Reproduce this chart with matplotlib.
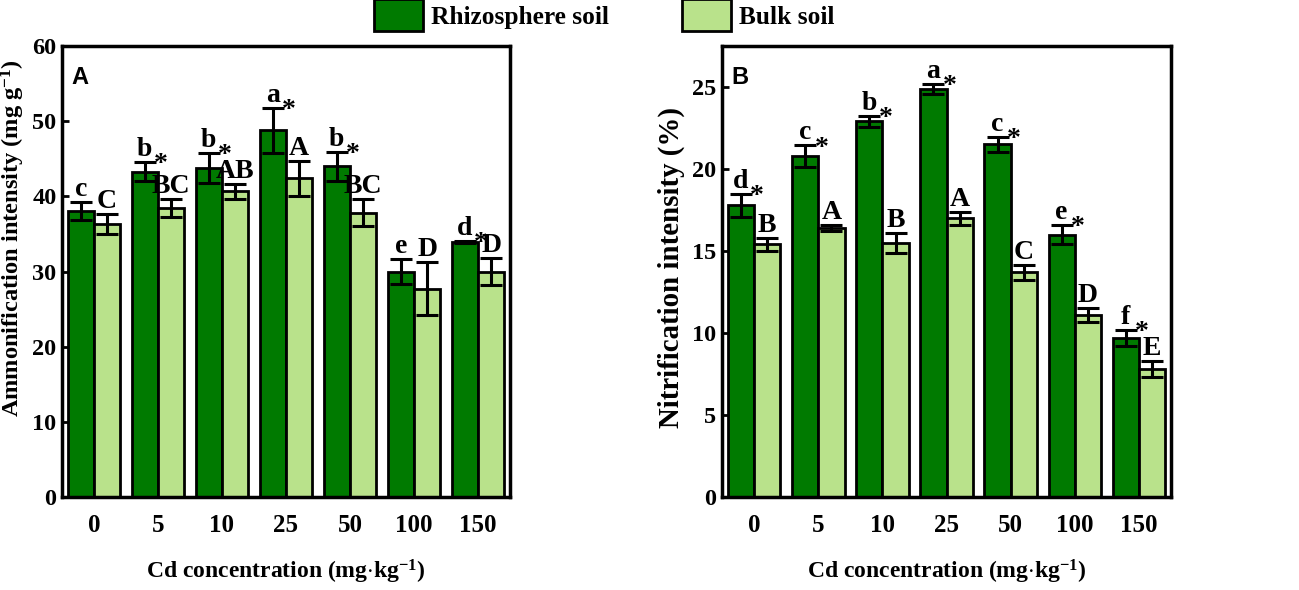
import matplotlib
matplotlib.use('Agg')
import matplotlib.pyplot as plt
import numpy as np
from matplotlib.patches import Patch

plt.rcParams['font.family'] = 'Liberation Serif'
plt.rcParams['font.weight'] = 'bold'
plt.rcParams['axes.labelweight'] = 'bold'
plt.rcParams['mathtext.fontset'] = 'custom'
plt.rcParams['mathtext.rm'] = 'Liberation Serif:bold'
plt.rcParams['mathtext.it'] = 'Liberation Serif:bold'
plt.rcParams['mathtext.bf'] = 'Liberation Serif:bold'

cd_levels = ['0', '5', '10', '25', '50', '100', '150']

# panel A: ammonification intensity (mg g-1)
amm_rhizo = [38.1, 43.3, 43.8, 48.8, 44.0, 30.0, 33.9]
amm_rhizo_err = [1.2, 1.3, 2.0, 3.0, 1.9, 1.7, 0.15]
amm_bulk = [36.3, 38.4, 40.7, 42.4, 37.8, 27.7, 30.0]
amm_bulk_err = [1.3, 1.2, 1.0, 2.3, 1.8, 3.5, 1.8]
amm_rhizo_letters = ['c', 'b', 'b', 'a', 'b', 'e', 'd']
amm_bulk_letters = ['C', 'BC', 'AB', 'A', 'BC', 'D', 'D']
amm_star = [False, True, True, True, True, False, True]

# panel B: nitrification intensity (%)
nit_rhizo = [17.8, 20.8, 22.9, 24.9, 21.5, 16.0, 9.7]
nit_rhizo_err = [0.7, 0.65, 0.35, 0.3, 0.45, 0.6, 0.5]
nit_bulk = [15.4, 16.4, 15.5, 17.0, 13.7, 11.1, 7.8]
nit_bulk_err = [0.4, 0.2, 0.6, 0.4, 0.45, 0.45, 0.5]
nit_rhizo_letters = ['d', 'c', 'b', 'a', 'c', 'e', 'f']
nit_bulk_letters = ['B', 'A', 'B', 'A', 'C', 'D', 'E']
nit_star = [True] * 7

DARK = '#007a00'
LIGHT = '#b9e28b'
W = 0.41


def draw_panel(ax, rhizo, rerr, bulk, berr, rlet, blet, stars, ymax, yticks,
               ylabel, ylab_size, ylab_x, ylab_y, tag):
    x = np.arange(len(cd_levels))
    ekw = dict(elinewidth=2.2, capthick=2.2, ecolor='black')
    ax.bar(x - W / 2, rhizo, W, color=DARK, edgecolor='black', linewidth=2,
           yerr=rerr, capsize=8, error_kw=ekw, zorder=2)
    ax.bar(x + W / 2, bulk, W, color=LIGHT, edgecolor='black', linewidth=2,
           yerr=berr, capsize=8, error_kw=ekw, zorder=2)
    for i in range(len(x)):
        ax.annotate(rlet[i], (x[i] - W / 2, rhizo[i] + rerr[i]), xytext=(0, 0),
                    textcoords='offset points', ha='center', va='bottom', fontsize=20)
        ax.annotate(blet[i], (x[i] + W / 2, bulk[i] + berr[i]), xytext=(0, 0),
                    textcoords='offset points', ha='center', va='bottom', fontsize=20)
        if stars[i]:
            ax.annotate('*', (x[i] + 0.05, rhizo[i] + rerr[i]), xytext=(0, -11),
                        textcoords='offset points', ha='center', va='bottom', fontsize=20)
    ax.set_xlim(-0.5, len(x) - 0.5)
    ax.set_ylim(0, ymax)
    ax.set_yticks(yticks)
    ax.set_xticks(x)
    ax.set_xticklabels(cd_levels)
    ax.tick_params(axis='y', direction='in', length=5, width=2, labelsize=17.5, pad=4)
    ax.tick_params(axis='x', length=0, labelsize=18, pad=12)
    for s in ax.spines.values():
        s.set_linewidth(2.5)
    ax.set_ylabel(ylabel, fontsize=ylab_size)
    ax.yaxis.set_label_coords(ylab_x, ylab_y)
    ax.set_xlabel('Cd concentration (mg$\\cdot$kg$^{-1}$)', fontsize=17)
    ax.xaxis.set_label_coords(0.5, -0.135)
    ax.text(0.022, 0.955, tag, transform=ax.transAxes, ha='left', va='top',
            fontsize=17, fontweight='bold', family='Liberation Sans')


fig = plt.figure(figsize=(12.99, 5.9), dpi=100)
ax1 = fig.add_axes([0.0477, 0.1576, 0.3449, 0.7644])
ax2 = fig.add_axes([0.5558, 0.1576, 0.3457, 0.7644])

draw_panel(ax1, amm_rhizo, amm_rhizo_err, amm_bulk, amm_bulk_err,
           amm_rhizo_letters, amm_bulk_letters, amm_star,
           60, [0, 10, 20, 30, 40, 50, 60],
           'Ammonification intensity (mg g$^{-1}$)', 17.6, -0.077, 0.574, 'A')
draw_panel(ax2, nit_rhizo, nit_rhizo_err, nit_bulk, nit_bulk_err,
           nit_rhizo_letters, nit_bulk_letters, nit_star,
           27.5, [0, 5, 10, 15, 20, 25],
           'Nitrification intensity (%)', 20.8, -0.082, 0.51, 'B')

handles = [Patch(facecolor=DARK, edgecolor='black', linewidth=2, label='Rhizosphere soil'),
           Patch(facecolor=LIGHT, edgecolor='black', linewidth=2, label='Bulk soil')]
fig.legend(handles=handles, loc='upper center', bbox_to_anchor=(0.465, 1.04), ncol=2,
           frameon=False, fontsize=18.3, handlelength=1.95, handleheight=1.55,
           handletextpad=0.3, columnspacing=2.85)

fig.savefig('out.png', dpi=100)
